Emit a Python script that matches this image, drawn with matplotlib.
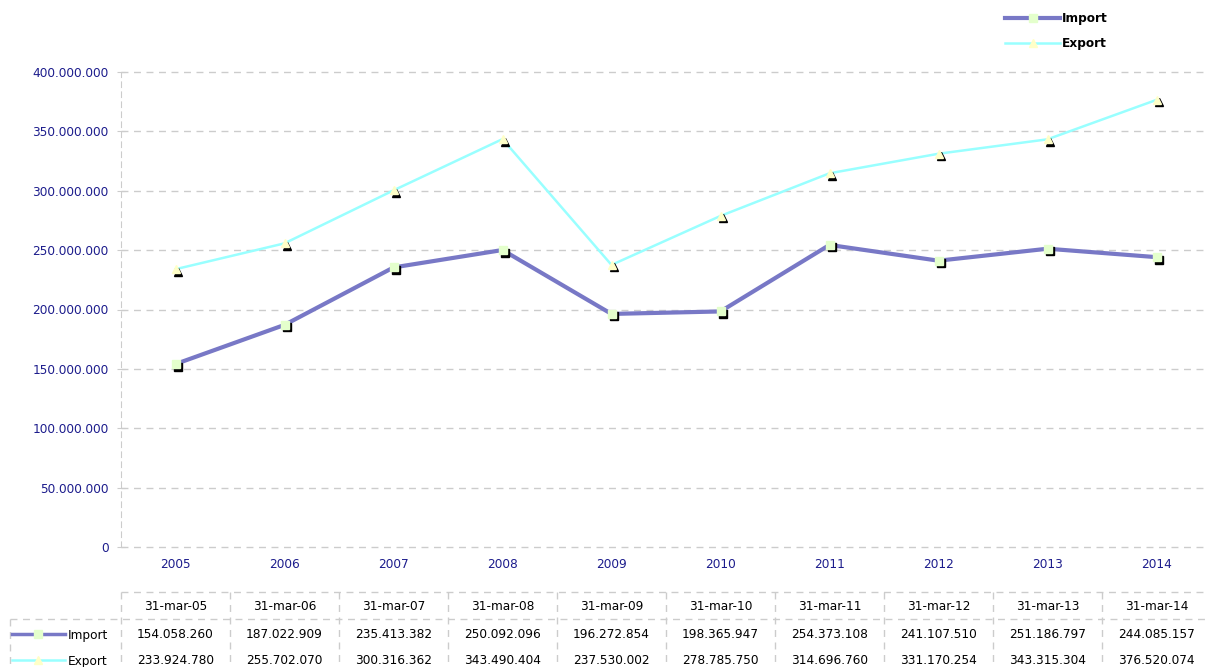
import numpy as np
import matplotlib
matplotlib.use("Agg")
import matplotlib.pyplot as plt
import matplotlib.transforms as mtransforms
from matplotlib.lines import Line2D
from matplotlib.ticker import FuncFormatter

# data
years = ["2005", "2006", "2007", "2008", "2009", "2010", "2011", "2012", "2013", "2014"]
dates = ["31-mar-05", "31-mar-06", "31-mar-07", "31-mar-08", "31-mar-09",
         "31-mar-10", "31-mar-11", "31-mar-12", "31-mar-13", "31-mar-14"]
imports = [154058260, 187022909, 235413382, 250092096, 196272854,
           198365947, 254373108, 241107510, 251186797, 244085157]
exports = [233924780, 255702070, 300316362, 343490404, 237530002,
           278785750, 314696760, 331170254, 343315304, 376520074]

W, H = 1207, 667
navy = "#1c1c8c"
grid_c = "#cccccc"
dash = (0, (5, 4))
imp_c, exp_c = "#7878c6", "#99ffff"
imp_m, exp_m = "#e4ffcc", "#ffffc8"
fs = 8.7

plt.rcParams["font.family"] = "DejaVu Sans"
fig = plt.figure(figsize=(W / 100, H / 100), dpi=100)

# main plot area, in pixels
left, top, colw = 121, 72, 109
bottom_px = 547
ax = fig.add_axes([left / W, (H - bottom_px) / H, 10 * colw / W, (bottom_px - top) / H])
x = np.arange(len(years))


def fmt(v, pos=None):
    return f"{int(v):,}".replace(",", ".")


# shadows (black, offset down-right) then the series
sh = mtransforms.offset_copy(ax.transData, fig=fig, x=2.5, y=-2.5, units="dots")
ax.plot(x, imports, ls="none", marker="s", ms=5.5, color="black", transform=sh, zorder=3)
ax.plot(x, exports, ls="none", marker="^", ms=5.5, color="black", transform=sh, zorder=3)
ax.plot(x, imports, color=imp_c, lw=3, zorder=2, solid_joinstyle="round")
ax.plot(x, exports, color=exp_c, lw=1.8, zorder=2)
ax.plot(x, imports, ls="none", marker="s", ms=5.5, mfc=imp_m, mec=imp_m, zorder=4)
ax.plot(x, exports, ls="none", marker="^", ms=5.5, mfc=exp_m, mec=exp_m, zorder=4)

ax.set_xlim(-0.5, 9.5)
ax.set_ylim(0, 400000000)
ax.set_yticks(np.arange(0, 400000001, 50000000))
ax.yaxis.set_major_formatter(FuncFormatter(fmt))
ax.set_xticks(x)
ax.set_xticklabels(years)
ax.tick_params(axis="y", colors=grid_c, labelcolor=navy, labelsize=fs,
               direction="inout", length=6, pad=6)
ax.tick_params(axis="x", length=0, labelcolor=navy, labelsize=fs, pad=8)
ax.yaxis.grid(True, color=grid_c, ls=dash, lw=1)
for gl in ax.get_ygridlines():
    gl.set_clip_on(False)
ax.set_axisbelow(True)
for s in ["top", "right", "bottom"]:
    ax.spines[s].set_visible(False)
ax.spines["left"].set_color(grid_c)
ax.spines["left"].set_linestyle(dash)

# legend top right
h_imp = Line2D([], [], color=imp_c, lw=3, marker="s", ms=6, mfc=imp_m, mec=imp_m)
h_exp = Line2D([], [], color=exp_c, lw=1.8, marker="^", ms=6, mfc=exp_m, mec=exp_m)
fig.legend([h_imp, h_exp], ["Import", "Export"], loc="upper left",
           bbox_to_anchor=(994 / W, 1 - 1 / H), frameon=False, handlelength=4.6,
           handletextpad=0.15, labelspacing=1.0, prop={"size": fs, "weight": "bold"})

# data table under the plot
tb = fig.add_axes([0, 0, 1, 1], zorder=-1)
tb.set_xlim(0, W)
tb.set_ylim(H, 0)
tb.axis("off")
r0, r1 = 592, 619
tb.plot([left, W], [r0, r0], color=grid_c, ls=dash, lw=1)
tb.plot([10, W], [r1, r1], color=grid_c, ls=dash, lw=1)
tb.plot([10, 10], [r1, H], color=grid_c, ls=dash, lw=1)
for i in range(11):
    xe = left + i * colw
    tb.plot([xe, xe], [r0, H], color=grid_c, ls=dash, lw=1)
for i in range(len(years)):
    xc = left + (i + 0.5) * colw
    tb.text(xc, 607, dates[i], ha="center", va="center", fontsize=fs)
    tb.text(xc, 635, fmt(imports[i]), ha="center", va="center", fontsize=fs)
    tb.text(xc, 661, fmt(exports[i]), ha="center", va="center", fontsize=fs)

# row labels with small legend glyphs
tb.plot([12, 65], [634, 634], color=imp_c, lw=2.5)
tb.plot([38], [634], marker="s", ms=5.5, mfc=imp_m, mec=imp_m)
tb.text(68, 635, "Import", ha="left", va="center", fontsize=fs)
tb.plot([12, 65], [660, 660], color=exp_c, lw=1.8)
tb.plot([38], [660], marker="^", ms=5.5, mfc=exp_m, mec=exp_m)
tb.text(68, 661, "Export", ha="left", va="center", fontsize=fs)

fig.savefig("out.png", dpi=100)
